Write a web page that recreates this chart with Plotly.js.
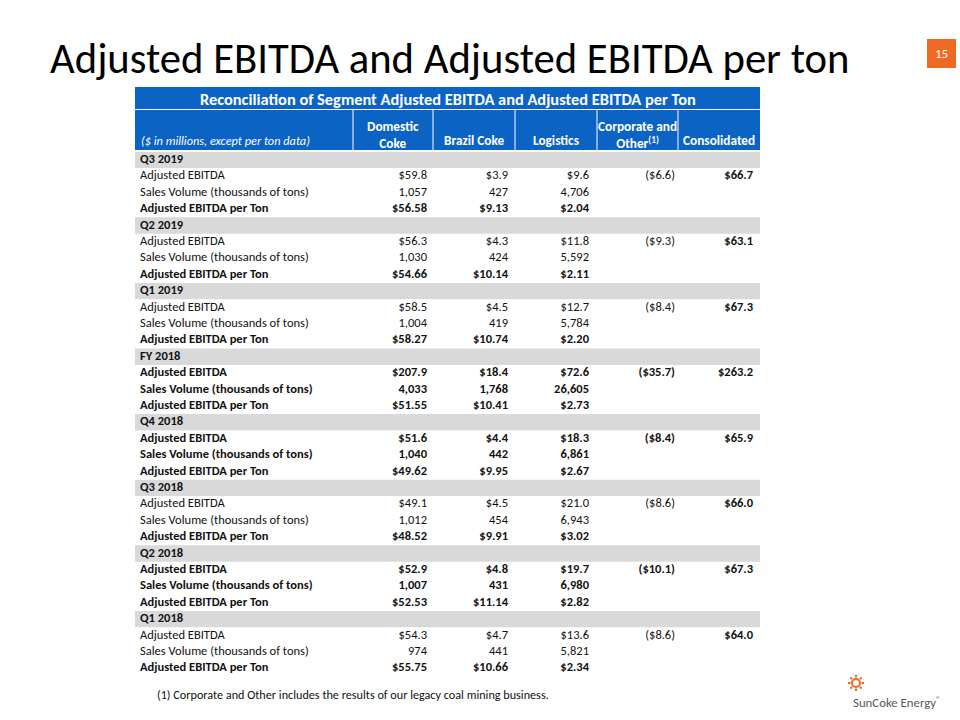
<!DOCTYPE html>
<html><head><meta charset="utf-8">
<script src="https://cdn.plot.ly/plotly-3.0.1.min.js"></script>
<style>html,body{margin:0;padding:0;background:#fff}</style>
</head><body>
<div id="chart" style="width:960px;height:720px"></div>
<script>
// ---- data ----
const periods = ["Q3 2019","Q2 2019","Q1 2019","FY 2018","Q4 2018","Q3 2018","Q2 2018","Q1 2018"];
const boldPeriods = ["FY 2018","Q4 2018","Q2 2018"];
const rowLabels = ["Adjusted EBITDA","Sales Volume (thousands of tons)","Adjusted EBITDA per Ton"];
const columnHeaders = ["<i>($ in millions, except per ton data)</i>","<b>Domestic<br>Coke</b>","<b>Brazil Coke</b>","<b>Logistics</b>","<b>Corporate and<br>Other<sup>(1)</sup></b>","<b>Consolidated</b>"];

const ebitdaDomestic     = [59.8, 56.3, 58.5, 207.9, 51.6, 49.1, 52.9, 54.3];
const ebitdaBrazil       = [3.9, 4.3, 4.5, 18.4, 4.4, 4.5, 4.8, 4.7];
const ebitdaLogistics    = [9.6, 11.8, 12.7, 72.6, 18.3, 21.0, 19.7, 13.6];
const ebitdaCorporate    = [-6.6, -9.3, -8.4, -35.7, -8.4, -8.6, -10.1, -8.6];
const ebitdaConsolidated = [66.7, 63.1, 67.3, 263.2, 65.9, 66.0, 67.3, 64.0];

const volumeDomestic  = [1057, 1030, 1004, 4033, 1040, 1012, 1007, 974];
const volumeBrazil    = [427, 424, 419, 1768, 442, 454, 431, 441];
const volumeLogistics = [4706, 5592, 5784, 26605, 6861, 6943, 6980, 5821];

const perTonDomestic  = [56.58, 54.66, 58.27, 51.55, 49.62, 48.52, 52.53, 55.75];
const perTonBrazil    = [9.13, 10.14, 10.74, 10.41, 9.95, 9.91, 11.14, 10.66];
const perTonLogistics = [2.04, 2.11, 2.20, 2.73, 2.67, 3.02, 2.82, 2.34];

const tableTitle = "Reconciliation of Segment Adjusted EBITDA and Adjusted EBITDA per Ton";
const slideTitle = "Adjusted EBITDA and Adjusted EBITDA per ton";
const footnote = "(1) Corporate and Other includes the results of our legacy coal mining business.";
const pageNumber = "15";
const logoText = "SunCoke Energy<sup>®</sup>";

// ---- styling / layout constants ----
const BLUE = "#0B63C3", GRAY = "#D9D9D9", ORANGE = "#EE6A24", INK = "#111111";
const FONT = "Carlito, Calibri, Lato, sans-serif";
const W = 960, H = 720;
const px = x => x / W, py = y => 1 - y / H;
const colEdges = [135, 353, 433, 515, 597, 678, 760];      // pixel edges of columns
const textAnchors = [140, 427, 508, 589, 675, 753];        // text anchor per column
const bodyTop = 151.7, rowH = 16.4;

// ---- formatting ----
function m1(v){ return v < 0 ? "($" + Math.abs(v).toFixed(1) + ")" : "$" + v.toFixed(1); }
function m2(v){ return "$" + v.toFixed(2); }
function vol(v){ return v.toLocaleString("en-US"); }
function b(s){ return s === "" ? "" : "<b>" + s + "</b>"; }

const cols = [[],[],[],[],[],[]];
const sectionRows = [];
let r = 0;
function addRow(vals){ vals.forEach((v,j)=>cols[j].push(v)); r++; }

periods.forEach((p, i) => {
  const allBold = boldPeriods.includes(p);
  const f = s => allBold ? b(s) : s;
  sectionRows.push(r);
  addRow([b(p), "", "", "", "", ""]);
  addRow([f(rowLabels[0]), f(m1(ebitdaDomestic[i])), f(m1(ebitdaBrazil[i])), f(m1(ebitdaLogistics[i])), f(m1(ebitdaCorporate[i])), b(m1(ebitdaConsolidated[i]))]);
  addRow([f(rowLabels[1]), f(vol(volumeDomestic[i])), f(vol(volumeBrazil[i])), f(vol(volumeLogistics[i])), "", ""]);
  addRow([b(rowLabels[2]), b(m2(perTonDomestic[i])), b(m2(perTonBrazil[i])), b(m2(perTonLogistics[i])), "", ""]);
});
const nRows = r;
const rowIdx = cols[0].map((_, k) => k);

const traces = [];
// gray section bands
traces.push({
  type: "bar", orientation: "h",
  y: sectionRows, x: sectionRows.map(() => colEdges[6] - colEdges[0]), base: colEdges[0],
  width: 1, marker: { color: GRAY, line: { width: 0 } }, hoverinfo: "skip", showlegend: false
});
// text columns
cols.forEach((c, j) => {
  traces.push({
    type: "scatter", mode: "text",
    x: rowIdx.map(() => textAnchors[j]), y: rowIdx, text: c,
    textposition: j === 0 ? "middle right" : "middle left",
    textfont: { family: FONT, size: 12.5, color: INK },
    cliponaxis: false, hoverinfo: "skip", showlegend: false
  });
});

const shapes = [
  { type: "rect", xref: "paper", yref: "paper", x0: px(colEdges[0]), x1: px(colEdges[6]), y0: py(109), y1: py(87), fillcolor: BLUE, line: { width: 0 } },
  { type: "rect", xref: "paper", yref: "paper", x0: px(colEdges[0]), x1: px(colEdges[6]), y0: py(150), y1: py(110), fillcolor: BLUE, line: { width: 0 } },
  { type: "rect", xref: "paper", yref: "paper", x0: px(927), x1: px(956), y0: py(68), y1: py(39), fillcolor: ORANGE, line: { width: 0 } },
  { type: "circle", xref: "paper", yref: "paper", x0: px(852), x1: px(860), y0: py(687), y1: py(679), fillcolor: "rgba(0,0,0,0)", line: { color: ORANGE, width: 2 } }
];
for (let k = 1; k < 6; k++) {
  shapes.push({ type: "line", xref: "paper", yref: "paper", x0: px(colEdges[k]), x1: px(colEdges[k]), y0: py(150), y1: py(110), line: { color: "#FFFFFF", width: 1 } });
}
for (let k = 0; k < 8; k++) {
  const a = k * Math.PI / 4, cx = 856, cy = 683;
  shapes.push({ type: "line", xref: "paper", yref: "paper",
    x0: px(cx + 5.5 * Math.cos(a)), y0: py(cy + 5.5 * Math.sin(a)),
    x1: px(cx + 8 * Math.cos(a)), y1: py(cy + 8 * Math.sin(a)),
    line: { color: ORANGE, width: 2 } });
}

const annotations = [
  { xref: "paper", yref: "paper", x: px(48), y: py(58), xanchor: "left", yanchor: "middle", showarrow: false,
    text: slideTitle, font: { family: FONT, size: 42.7, color: "#000000" } },
  { xref: "paper", yref: "paper", x: px((colEdges[0] + colEdges[6]) / 2), y: py(98.5), xanchor: "center", yanchor: "middle", showarrow: false,
    text: "<b>" + tableTitle + "</b>", font: { family: FONT, size: 16.4, color: "#FFFFFF" } },
  { xref: "paper", yref: "paper", x: px(941.5), y: py(53.5), xanchor: "center", yanchor: "middle", showarrow: false,
    text: pageNumber, font: { family: FONT, size: 13, color: "#FFFFFF" } },
  { xref: "paper", yref: "paper", x: px(155), y: py(694), xanchor: "left", yanchor: "middle", showarrow: false,
    text: footnote, font: { family: FONT, size: 12.2, color: INK } },
  { xref: "paper", yref: "paper", x: px(851), y: py(701), xanchor: "left", yanchor: "middle", showarrow: false,
    text: logoText, font: { family: FONT, size: 12.8, color: "#585858" } }
];
// header labels
columnHeaders.forEach((h, j) => {
  const twoLine = h.includes("<br>");
  annotations.push({
    xref: "paper", yref: "paper",
    x: j === 0 ? px(139) : px((colEdges[j] + colEdges[j + 1]) / 2),
    y: twoLine ? py(134.5) : py(141),
    xanchor: j === 0 ? "left" : "center", yanchor: "middle", align: "center", showarrow: false,
    text: h, font: { family: FONT, size: j === 0 ? 12.3 : 13.3, color: "#FFFFFF" }
  });
});

Plotly.newPlot("chart", traces, {
  width: W, height: H,
  margin: { l: 0, r: 0, t: 0, b: 0 },
  paper_bgcolor: "#FFFFFF", plot_bgcolor: "rgba(0,0,0,0)",
  xaxis: { domain: [0, 1], range: [0, W], visible: false, fixedrange: true },
  yaxis: { domain: [py(bodyTop + nRows * rowH), py(bodyTop)], range: [nRows - 0.5, -0.5], visible: false, fixedrange: true },
  shapes: shapes,
  annotations: annotations,
  showlegend: false
}, { displayModeBar: false, staticPlot: true });
</script>
</body></html>
